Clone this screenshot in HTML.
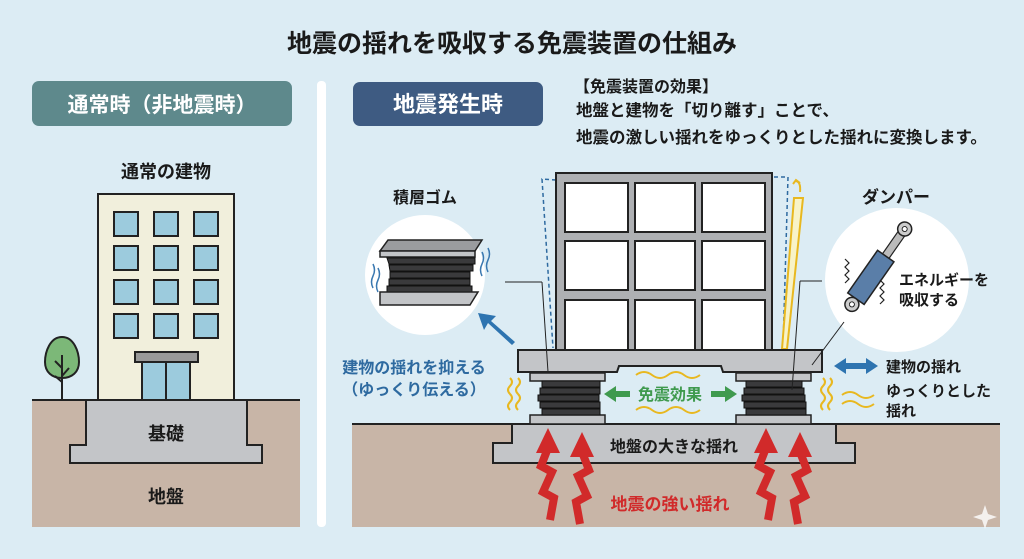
<!DOCTYPE html>
<html><head><meta charset="utf-8"><style>
html,body{margin:0;padding:0;background:#dcecf4;}
svg{display:block;font-family:"Liberation Sans","Noto Sans CJK JP",sans-serif;font-weight:bold;}
</style></head><body>
<svg width="1024" height="559" viewBox="0 0 1024 559" xmlns="http://www.w3.org/2000/svg">
<defs>
<g id="bolt">
<polyline points="0,20 -7,38 4,44 -5,64 6,70 2,92" fill="none" stroke="#d12a2a" stroke-width="8" stroke-linejoin="miter"/>
<polygon points="0,0 -12,25 12,25" fill="#d12a2a"/>
</g>
</defs>
<rect x="0" y="0" width="1024" height="559" fill="#dcecf4"/>
<text x="512" y="52" text-anchor="middle" font-size="25" fill="#1a1a1a">地震の揺れを吸収する免震装置の仕組み</text>

<rect x="32" y="81" width="260" height="45" rx="7" fill="#5e898c"/>
<text x="162" y="112" text-anchor="middle" font-size="21" fill="#fff">通常時（非地震時）</text>
<rect x="317" y="81" width="9" height="446" rx="4" fill="#fff"/>

<text x="166" y="178" text-anchor="middle" font-size="18" fill="#1a1a1a">通常の建物</text>
<rect x="32" y="400" width="268" height="127" fill="#c8b5a7"/>
<line x1="32" y1="400" x2="300" y2="400" stroke="#222" stroke-width="2"/>
<path d="M86 400 V445 H70 V463 H262 V445 H247 V400 Z" fill="#c3c5c8" stroke="#222" stroke-width="2"/>
<text x="166" y="440" text-anchor="middle" font-size="18" fill="#1a1a1a">基礎</text>
<text x="166" y="503" text-anchor="middle" font-size="18" fill="#1a1a1a">地盤</text>
<rect x="98" y="194" width="136" height="206" fill="#f1efdc" stroke="#222" stroke-width="2"/>
<g fill="#9ccbdd" stroke="#222" stroke-width="2">
<rect x="114" y="212" width="24" height="24"/><rect x="154" y="212" width="24" height="24"/><rect x="194" y="212" width="24" height="24"/>
<rect x="114" y="246" width="24" height="24"/><rect x="154" y="246" width="24" height="24"/><rect x="194" y="246" width="24" height="24"/>
<rect x="114" y="280" width="24" height="24"/><rect x="154" y="280" width="24" height="24"/><rect x="194" y="280" width="24" height="24"/>
<rect x="114" y="314" width="24" height="24"/><rect x="154" y="314" width="24" height="24"/><rect x="194" y="314" width="24" height="24"/>
<rect x="142" y="362" width="48" height="38"/>
</g>
<line x1="166" y1="362" x2="166" y2="400" stroke="#222" stroke-width="2"/>
<rect x="135" y="352" width="63" height="10" fill="#999" stroke="#222" stroke-width="2"/>
<path d="M62 337 C74 337 79 352 79 362 C79 372 72 378 62 378 C52 378 45 372 45 362 C45 352 50 337 62 337 Z" fill="#7cb878" stroke="#222" stroke-width="2"/>
<path d="M62 355 V400 M62 368 L55 361 M62 376 L69 368 M62 382 L55 376" stroke="#222" stroke-width="2" fill="none"/>

<rect x="353" y="82" width="190" height="44" rx="7" fill="#3e5b82"/>
<text x="448" y="112" text-anchor="middle" font-size="22" fill="#fff">地震発生時</text>
<text x="574" y="92" font-size="16" fill="#1a1a1a">【免震装置の効果】</text>
<text x="576" y="116" font-size="16.5" fill="#1a1a1a">地盤と建物を「切り離す」ことで、</text>
<text x="576" y="143" font-size="16.5" fill="#1a1a1a">地震の激しい揺れをゆっくりとした揺れに変換します。</text>

<rect x="352" y="424" width="648" height="103" fill="#c8b5a7"/>
<line x1="352" y1="424" x2="1000" y2="424" stroke="#222" stroke-width="2"/>
<path d="M512 424 V443 H493 V463 H855 V443 H836 V424 Z" fill="#c3c5c8" stroke="#222" stroke-width="2"/>
<text x="674" y="452" text-anchor="middle" font-size="16" fill="#1a1a1a">地盤の大きな揺れ</text>

<path d="M556 180 L542 179 L553 348" stroke="#2e6aa0" stroke-width="1.5" stroke-dasharray="4,3" fill="none"/>
<path d="M774 177 L788 177 L783 348" stroke="#2e6aa0" stroke-width="1.5" stroke-dasharray="4,3" fill="none"/>
<path d="M794 198 L803 198 L787 349 L782 349 Z" fill="#f8f3c8" stroke="#e8b820" stroke-width="2"/>
<path d="M800 192 Q801 182 796 181 M793 184 L796 180 L800 183" stroke="#e8b820" stroke-width="2" fill="none"/>

<rect x="556" y="173" width="216" height="178" fill="#aeb0b3" stroke="#222" stroke-width="2"/>
<g fill="#fff" stroke="#222" stroke-width="2">
<rect x="565" y="183" width="63" height="49"/><rect x="635" y="183" width="60" height="49"/><rect x="702" y="183" width="63" height="49"/>
<rect x="565" y="241" width="63" height="49"/><rect x="635" y="241" width="60" height="49"/><rect x="702" y="241" width="63" height="49"/>
<rect x="565" y="300" width="63" height="50"/><rect x="635" y="300" width="60" height="50"/><rect x="702" y="300" width="63" height="50"/>
</g>
<path d="M518 350 H822 V372 H723 L721 366 H619 L617 372 H518 Z" fill="#c3c5c8" stroke="#222" stroke-width="2"/>
<g stroke="#222" stroke-width="1.5">
<rect x="530" y="373" width="75" height="8" fill="#c3c5c8"/>
<rect x="530" y="415" width="75" height="9" fill="#c3c5c8"/>
<rect x="736" y="373" width="75" height="8" fill="#c3c5c8"/>
<rect x="736" y="415" width="75" height="9" fill="#c3c5c8"/>
</g>
<g fill="#3a3a3c" stroke="#111" stroke-width="1">
<rect x="542" y="381" width="58" height="6"/><rect x="540" y="388" width="60" height="6"/><rect x="538" y="395" width="61" height="6"/><rect x="540" y="402" width="60" height="6"/><rect x="542" y="409" width="58" height="6"/>
<rect x="746" y="381" width="56" height="6"/><rect x="744" y="388" width="60" height="6"/><rect x="742" y="395" width="63" height="6"/><rect x="744" y="402" width="62" height="6"/><rect x="746" y="409" width="60" height="6"/>
</g>
<g stroke="#e8b820" stroke-width="2" fill="none">
<path d="M510 378 q4 4 0 8 q-4 4 0 8 q4 4 0 8 q-4 4 0 8"/><path d="M518 378 q4 4 0 8 q-4 4 0 8 q4 4 0 8 q-4 4 0 8"/>
<path d="M823 378 q4 4 0 8 q-4 4 0 8 q4 4 0 8 q-4 4 0 8"/><path d="M830 378 q4 4 0 8 q-4 4 0 8 q4 4 0 8 q-4 4 0 8"/>
<path d="M636 375 q8 -6 16 0 q8 6 16 0 q8 -6 16 0 q8 6 16 0"/>
<path d="M636 410 q8 -6 16 0 q8 6 16 0 q8 -6 16 0 q8 6 16 0"/>
<path d="M842 395 q8 -6 16 0 q8 6 16 0"/><path d="M842 404 q8 -6 16 0 q8 6 16 0"/>
</g>
<path d="M604 394 L616 386 V391 H630 V397 H616 V402 Z" fill="#3f9a4e"/>
<path d="M737 394 L725 386 V391 H711 V397 H725 V402 Z" fill="#3f9a4e"/>
<text x="670" y="400" text-anchor="middle" font-size="16" fill="#3f9a4e">免震効果</text>

<use href="#bolt" transform="translate(548 428)"/>
<use href="#bolt" transform="translate(582 432) scale(-1 1)"/>
<use href="#bolt" transform="translate(766 428)"/>
<use href="#bolt" transform="translate(800 432) scale(-1 1)"/>
<text x="670" y="510" text-anchor="middle" font-size="17" fill="#d12a2a">地震の強い揺れ</text>

<text x="425" y="203" text-anchor="middle" font-size="16" fill="#1a1a1a">積層ゴム</text>
<circle cx="425" cy="275" r="60" fill="#fff"/>
<line x1="505" y1="282" x2="542" y2="282" stroke="#222" stroke-width="1"/>
<line x1="542" y1="282" x2="548" y2="372" stroke="#222" stroke-width="1"/>
<path d="M380 251 L388 240 H482 L475 251 Z" fill="#9a9c9f" stroke="#222" stroke-width="1.5"/>
<rect x="380" y="251" width="95" height="6" fill="#c3c5c8" stroke="#222" stroke-width="1.5"/>
<g fill="#3a3a3c" stroke="#111" stroke-width="1">
<path d="M387 258 H475 V264 H389 Z"/><path d="M389 265 H473 V271 H390 Z"/><path d="M390 272 H470 V278 H390 Z"/><path d="M389 279 H470 V285 H389 Z"/><path d="M387 286 H472 V292 H387 Z"/>
</g>
<path d="M380 292 H478 L470 305 H380 Z" fill="#c3c5c8" stroke="#222" stroke-width="1.5"/>
<g stroke="#3a78b0" stroke-width="1.5" fill="none">
<path d="M373 264 q3 6 0 12 q-3 6 0 12"/><path d="M378 268 q3 6 0 12 q-3 6 0 12"/>
<path d="M482 252 q3 6 0 12 q-3 6 0 12"/><path d="M488 248 q3 6 0 12 q-3 6 0 12"/>
</g>
<path d="M512 345 L488 323 L484 330 L478 313 L496 316 L491 321 L515 342 Z" fill="#2e74b0"/>
<text x="414" y="373" text-anchor="middle" font-size="16" fill="#2e6aa0">建物の揺れを抑える</text>
<text x="414" y="395" text-anchor="middle" font-size="16" fill="#2e6aa0">（ゆっくり伝える）</text>

<text x="896" y="203" text-anchor="middle" font-size="17" fill="#1a1a1a">ダンパー</text>
<circle cx="897" cy="280" r="72" fill="#fff"/>
<line x1="822" y1="281" x2="800" y2="281" stroke="#222" stroke-width="1"/>
<line x1="800" y1="281" x2="792" y2="390" stroke="#222" stroke-width="1"/>
<line x1="844" y1="322" x2="812" y2="365" stroke="#222" stroke-width="1"/>
<g transform="rotate(35 876 270)">
<rect x="872" y="225" width="8" height="30" fill="#bbb" stroke="#222" stroke-width="1.2"/>
<rect x="866" y="253" width="20" height="52" fill="#5a7ea8" stroke="#222" stroke-width="1.5"/>
<circle cx="876" cy="220" r="7" fill="#ccc" stroke="#222" stroke-width="1.5"/><circle cx="876" cy="220" r="2.5" fill="#fff" stroke="#222"/>
<circle cx="876" cy="312" r="7" fill="#ccc" stroke="#222" stroke-width="1.5"/><circle cx="876" cy="312" r="2.5" fill="#fff" stroke="#222"/>
</g>
<g stroke="#222" stroke-width="1.2" fill="none">
<path d="M845 283 l4 -4 l-4 -4 l4 -4 l-4 -4 l4 -4 l-4 -4"/>
<path d="M880 304 l4 -4 l-4 -4 l4 -4 l-4 -4 l4 -4 l-4 -4"/>
</g>
<text x="899" y="285" font-size="15" fill="#1a1a1a">エネルギーを</text>
<text x="899" y="305" font-size="15" fill="#1a1a1a">吸収する</text>
<path d="M834 366 L846 358 V363 H866 V358 L878 366 L866 374 V369 H846 V374 Z" fill="#2e74b0"/>
<text x="886" y="372" font-size="15" fill="#1a1a1a">建物の揺れ</text>
<text x="886" y="396" font-size="15" fill="#1a1a1a">ゆっくりとした</text>
<text x="886" y="416" font-size="15" fill="#1a1a1a">揺れ</text>
<path d="M985 505 L988 514 L997 517 L988 520 L985 529 L982 520 L973 517 L982 514 Z" fill="#fff" opacity="0.8"/>
</svg>
</body></html>
